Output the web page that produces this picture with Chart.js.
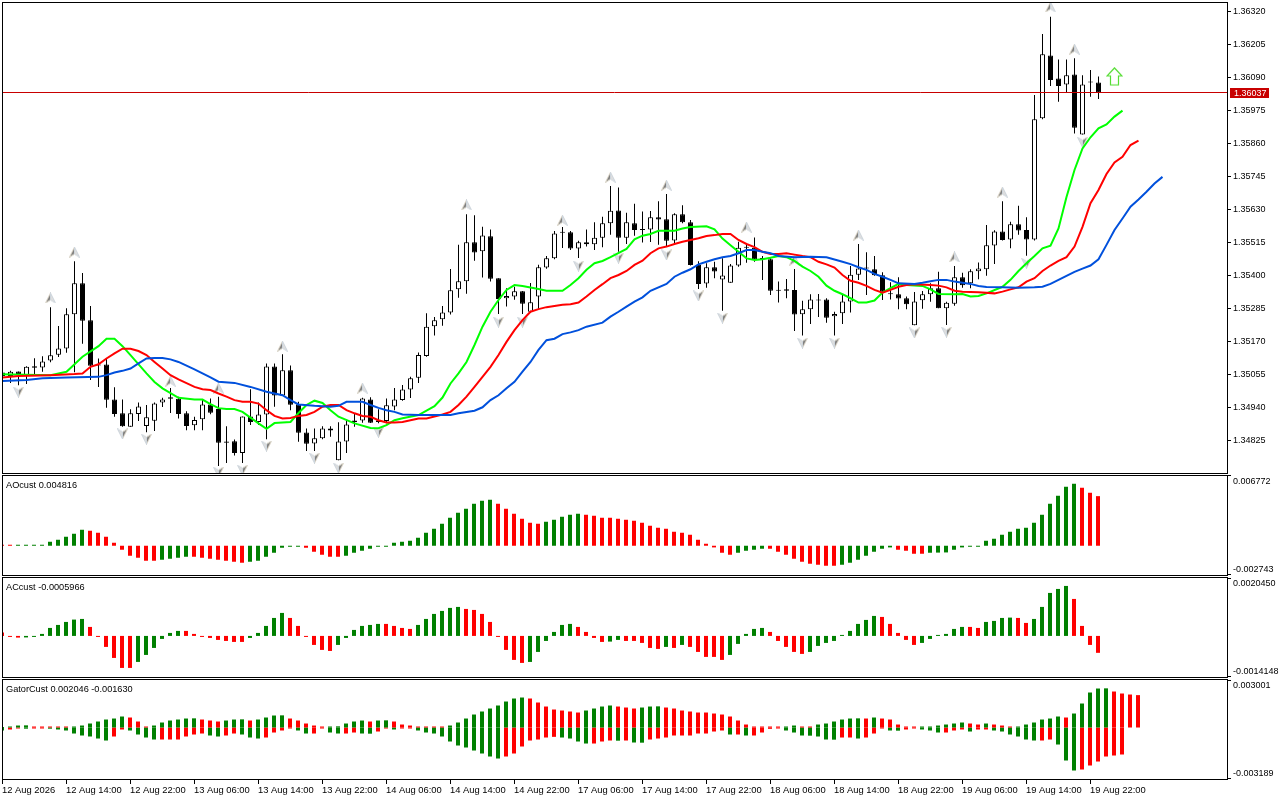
<!DOCTYPE html>
<html>
<head>
<meta charset="utf-8">
<title>GBPUSD H1</title>
<script src="https://cdn.jsdelivr.net/npm/chart.js@4"></script>
<style>
html, body { margin: 0; padding: 0; background: #fff; }
canvas { position: absolute; left: 0; display: block; }
</style>
</head>
<body>
<canvas id="main-chart" width="1280" height="474" style="top:0"></canvas>
<canvas id="ao-chart" width="1280" height="102" style="top:474px"></canvas>
<canvas id="ac-chart" width="1280" height="102" style="top:576px"></canvas>
<canvas id="gator-chart" width="1280" height="122" style="top:678px"></canvas>
<script>
// prices, one entry per hourly bar
const candleOpen = [
1.35060,1.35048,1.35064,1.35051,1.35082,1.35078,1.35102,1.35122,1.35144,1.35263,
1.35371,1.35242,1.35085,1.35088,1.34966,1.34918,1.34871,1.34916,1.34874,1.34892,
1.34956,1.34974,1.34969,1.34918,1.34876,1.34897,1.34949,1.34933,1.34820,1.34821,
1.34780,1.34907,1.34888,1.34914,1.35081,1.34980,1.35068,1.34950,1.34851,1.34813,
1.34831,1.34865,1.34754,1.34820,1.34893,1.34893,1.34966,1.34888,1.34891,1.34942,
1.34964,1.35001,1.35042,1.35118,1.35221,1.35246,1.35269,1.35350,1.35378,1.35514,
1.35483,1.35535,1.35389,1.35319,1.35325,1.35343,1.35272,1.35325,1.35426,1.35458,
1.35547,1.35549,1.35492,1.35514,1.35507,1.35530,1.35580,1.35625,1.35530,1.35580,
1.35557,1.35559,1.35601,1.35594,1.35520,1.35612,1.35584,1.35436,1.35370,1.35427,
1.35384,1.35373,1.35433,1.35495,1.35495,1.35455,1.35455,1.35345,1.35350,1.35348,
1.35263,1.35281,1.35315,1.35315,1.35256,1.35267,1.35308,1.35401,1.35423,1.35420,
1.35399,1.35336,1.35333,1.35319,1.35225,1.35312,1.35333,1.35354,1.35284,1.35300,
1.35392,1.35371,1.35413,1.35420,1.35503,1.35552,1.35524,1.35577,1.35557,1.35524,
1.35946,1.36165,1.36085,1.36064,1.36099,1.35890,1.36071,1.36071];
const candleHigh = [
1.35062,1.35066,1.35064,1.35082,1.35110,1.35117,1.35288,1.35222,1.35284,1.35448,
1.35407,1.35292,1.35109,1.35107,1.35009,1.34966,1.34932,1.34956,1.34947,1.34956,
1.34972,1.35006,1.34976,1.34925,1.34906,1.34964,1.34970,1.34976,1.34873,1.34827,
1.34907,1.35002,1.34956,1.35092,1.35092,1.35124,1.35085,1.34958,1.34865,1.34865,
1.34873,1.34873,1.34887,1.34891,1.34918,1.34972,1.34974,1.34932,1.34970,1.35006,
1.35017,1.35045,1.35130,1.35267,1.35254,1.35292,1.35421,1.35505,1.35612,1.35608,
1.35568,1.35559,1.35389,1.35354,1.35359,1.35344,1.35372,1.35436,1.35466,1.35553,
1.35567,1.35553,1.35519,1.35559,1.35584,1.35603,1.35710,1.35705,1.35617,1.35648,
1.35621,1.35623,1.35657,1.35682,1.35615,1.35643,1.35592,1.35448,1.35441,1.35446,
1.35458,1.35438,1.35516,1.35508,1.35531,1.35466,1.35458,1.35377,1.35386,1.35421,
1.35310,1.35333,1.35334,1.35319,1.35272,1.35330,1.35431,1.35508,1.35479,1.35466,
1.35410,1.35375,1.35392,1.35325,1.35341,1.35344,1.35371,1.35411,1.35307,1.35431,
1.35408,1.35420,1.35444,1.35574,1.35556,1.35657,1.35586,1.35641,1.35601,1.36027,
1.36240,1.36300,1.36151,1.36151,1.36155,1.36096,1.36114,1.36092];
const candleLow = [
1.35044,1.35024,1.35016,1.35020,1.35051,1.35063,1.35096,1.35114,1.35129,1.35061,
1.35160,1.35034,1.35010,1.34937,1.34906,1.34871,1.34871,1.34891,1.34852,1.34856,
1.34940,1.34919,1.34900,1.34859,1.34859,1.34859,1.34915,1.34734,1.34745,1.34771,
1.34745,1.34877,1.34877,1.34828,1.34941,1.34980,1.34929,1.34819,1.34787,1.34787,
1.34828,1.34836,1.34754,1.34780,1.34871,1.34885,1.34884,1.34883,1.34883,1.34929,
1.34962,1.34971,1.35024,1.35115,1.35189,1.35223,1.35262,1.35321,1.35335,1.35450,
1.35391,1.35377,1.35264,1.35290,1.35314,1.35264,1.35268,1.35278,1.35422,1.35455,
1.35494,1.35487,1.35459,1.35499,1.35487,1.35497,1.35540,1.35481,1.35508,1.35537,
1.35513,1.35515,1.35505,1.35499,1.35508,1.35580,1.35433,1.35351,1.35356,1.35389,
1.35275,1.35373,1.35429,1.35443,1.35446,1.35383,1.35330,1.35304,1.35319,1.35205,
1.35189,1.35229,1.35254,1.35234,1.35189,1.35229,1.35269,1.35383,1.35330,1.35397,
1.35313,1.35315,1.35281,1.35281,1.35225,1.35282,1.35307,1.35284,1.35226,1.35293,
1.35356,1.35354,1.35385,1.35397,1.35438,1.35520,1.35493,1.35540,1.35467,1.35520,
1.35943,1.36059,1.36004,1.36035,1.35893,1.35890,1.36021,1.36013];
const candleClose = [
1.35048,1.35063,1.35051,1.35080,1.35077,1.35099,1.35120,1.35144,1.35263,1.35371,
1.35241,1.35084,1.35088,1.34965,1.34916,1.34873,1.34918,1.34942,1.34904,1.34952,
1.34966,1.34969,1.34916,1.34874,1.34895,1.34949,1.34920,1.34815,1.34815,1.34780,
1.34907,1.34888,1.34914,1.35081,1.34980,1.35068,1.34948,1.34850,1.34812,1.34831,
1.34865,1.34858,1.34820,1.34879,1.34887,1.34970,1.34885,1.34894,1.34946,1.34966,
1.35001,1.35040,1.35121,1.35220,1.35242,1.35269,1.35347,1.35378,1.35514,1.35478,
1.35538,1.35387,1.35316,1.35327,1.35343,1.35300,1.35305,1.35427,1.35458,1.35545,
1.35550,1.35492,1.35514,1.35507,1.35530,1.35580,1.35624,1.35530,1.35584,1.35557,
1.35559,1.35601,1.35593,1.35519,1.35612,1.35584,1.35435,1.35369,1.35427,1.35412,
1.35398,1.35433,1.35495,1.35497,1.35455,1.35459,1.35345,1.35346,1.35345,1.35262,
1.35281,1.35315,1.35311,1.35251,1.35264,1.35308,1.35401,1.35423,1.35425,1.35399,
1.35342,1.35333,1.35318,1.35298,1.35308,1.35333,1.35354,1.35284,1.35303,1.35392,
1.35364,1.35413,1.35423,1.35504,1.35552,1.35522,1.35577,1.35555,1.35524,1.35943,
1.36169,1.36080,1.36059,1.36096,1.35913,1.36064,1.36073,1.36037];

// alligator lines, read at the bars where they bend
const lipsBars = [0,6,8,10,12,13,14,15,16,18,19,20,22,24,25,26,27,28,29,30,32,33,34,35,36,37,38,39,40,41,42,44,46,47,48,49,50,52,54,55,56,57,58,59,60,61,62,63,64,65,67,68,70,71,72,73,74,75,76,78,79,80,81,82,84,85,86,88,89,90,91,92,93,94,95,96,97,98,99,100,101,102,103,104,105,106,107,108,109,110,111,112,113,115,116,117,119,120,121,122,123,125,126,127,128,129,130,131,132,133,134,135,136,137,138,139,140];
const lipsValues = [1.35054,1.35051,1.35063,1.35115,1.35152,1.35178,1.35178,1.35152,1.35121,1.35057,1.35027,1.35005,1.34972,1.34966,1.34966,1.34950,1.34936,1.34933,1.34933,1.34923,1.34883,1.34864,1.34884,1.34886,1.34888,1.34919,1.34947,1.34962,1.34954,1.34929,1.34906,1.34883,1.34867,1.34866,1.34877,1.34894,1.34901,1.34912,1.34943,1.34973,1.35022,1.35057,1.35097,1.35156,1.35220,1.35272,1.35313,1.35348,1.35365,1.35362,1.35351,1.35345,1.35345,1.35365,1.35389,1.35418,1.35441,1.35449,1.35462,1.35491,1.35524,1.35537,1.35543,1.35554,1.35554,1.35562,1.35567,1.35570,1.35559,1.35527,1.35504,1.35481,1.35458,1.35452,1.35455,1.35460,1.35466,1.35462,1.35449,1.35429,1.35414,1.35394,1.35363,1.35345,1.35333,1.35319,1.35304,1.35304,1.35311,1.35339,1.35354,1.35369,1.35365,1.35362,1.35350,1.35334,1.35333,1.35334,1.35325,1.35327,1.35336,1.35359,1.35383,1.35414,1.35441,1.35466,1.35493,1.35502,1.35562,1.35672,1.35766,1.35841,1.35880,1.35911,1.35925,1.35952,1.35973];
const teethBars = [0,2,6,9,10,11,12,13,14,15,16,17,18,19,20,21,22,24,25,26,27,28,29,30,31,32,33,34,35,36,37,38,39,40,41,42,43,44,45,46,47,48,49,50,52,53,55,56,57,58,59,60,61,62,63,64,65,66,67,68,69,70,71,72,73,74,75,76,77,78,79,80,81,82,83,84,85,86,87,88,89,90,91,92,93,94,95,96,97,98,99,100,101,102,103,104,105,106,107,108,109,110,111,112,113,114,116,117,118,119,120,122,124,125,126,127,128,129,130,131,132,133,134,135,136,137,138,139,140,141,142];
const teethValues = [1.35043,1.35048,1.35051,1.35055,1.35057,1.35080,1.35089,1.35109,1.35127,1.35143,1.35143,1.35135,1.35121,1.35097,1.35074,1.35051,1.35036,1.35010,1.35002,1.34999,1.34987,1.34976,1.34964,1.34958,1.34958,1.34952,1.34929,1.34909,1.34900,1.34902,1.34909,1.34912,1.34923,1.34941,1.34947,1.34947,1.34929,1.34918,1.34909,1.34906,1.34894,1.34886,1.34886,1.34888,1.34900,1.34900,1.34914,1.34923,1.34947,1.34976,1.35010,1.35045,1.35080,1.35121,1.35167,1.35208,1.35243,1.35272,1.35281,1.35288,1.35292,1.35296,1.35298,1.35304,1.35325,1.35348,1.35368,1.35389,1.35400,1.35414,1.35435,1.35450,1.35476,1.35493,1.35499,1.35508,1.35516,1.35522,1.35528,1.35536,1.35539,1.35543,1.35543,1.35522,1.35508,1.35497,1.35481,1.35473,1.35473,1.35476,1.35471,1.35466,1.35462,1.35446,1.35437,1.35426,1.35400,1.35380,1.35373,1.35362,1.35348,1.35338,1.35348,1.35359,1.35365,1.35368,1.35365,1.35363,1.35357,1.35345,1.35342,1.35340,1.35336,1.35342,1.35350,1.35357,1.35377,1.35389,1.35414,1.35433,1.35449,1.35462,1.35499,1.35568,1.35650,1.35696,1.35752,1.35792,1.35812,1.35853,1.35868];
const jawBars = [0,3,5,8,12,13,14,15,16,17,18,19,20,21,22,24,26,27,29,31,33,35,36,37,39,41,42,43,45,46,47,48,49,50,52,56,57,59,60,61,62,63,64,65,66,67,68,69,70,71,72,73,75,76,77,78,79,80,81,83,84,85,86,87,88,89,90,91,92,93,94,95,96,97,99,101,103,105,106,107,108,109,110,111,112,114,115,116,117,118,119,120,121,122,123,125,127,129,130,131,132,133,134,135,136,137,138,139,140,141,142,143,144,145];
const jawValues = [1.35031,1.35034,1.35040,1.35043,1.35045,1.35051,1.35060,1.35066,1.35074,1.35092,1.35109,1.35111,1.35111,1.35106,1.35097,1.35071,1.35043,1.35028,1.35024,1.35010,1.34993,1.34981,1.34964,1.34949,1.34944,1.34941,1.34944,1.34958,1.34958,1.34947,1.34937,1.34929,1.34923,1.34914,1.34912,1.34912,1.34918,1.34927,1.34939,1.34964,1.34981,1.35005,1.35028,1.35063,1.35097,1.35139,1.35173,1.35178,1.35194,1.35200,1.35208,1.35220,1.35234,1.35255,1.35272,1.35290,1.35307,1.35322,1.35345,1.35369,1.35394,1.35408,1.35420,1.35437,1.35446,1.35455,1.35462,1.35466,1.35476,1.35487,1.35487,1.35481,1.35476,1.35466,1.35462,1.35464,1.35462,1.35446,1.35438,1.35427,1.35418,1.35404,1.35394,1.35383,1.35371,1.35369,1.35373,1.35378,1.35383,1.35383,1.35377,1.35373,1.35369,1.35362,1.35358,1.35357,1.35356,1.35357,1.35359,1.35369,1.35383,1.35397,1.35411,1.35422,1.35433,1.35455,1.35505,1.35557,1.35597,1.35638,1.35663,1.35690,1.35719,1.35742];

// fractal arrows and the signal arrow
const fractalUpBars = [6,9,21,27,35,45,58,70,76,83,93,99,107,119,125,131,134];
const fractalUpValues = [1.35320,1.35480,1.35030,1.35006,1.35152,1.35006,1.35644,1.35591,1.35741,1.35713,1.35567,1.35452,1.35539,1.35463,1.35689,1.36334,1.36187];
const fractalDownBars = [2,15,18,27,30,33,39,42,47,62,65,72,77,83,87,90,100,104,114,118,128,135];
const fractalDownValues = [1.34992,1.34846,1.34828,1.34713,1.34720,1.34804,1.34762,1.34727,1.34852,1.35236,1.35236,1.35431,1.35459,1.35470,1.35327,1.35250,1.35163,1.35163,1.35198,1.35201,1.35441,1.35863];
const signalBars = [139];
const signalValues = [1.36092];

const currentPrice = 1.36037;
const priceTicks = [1.36320,1.36205,1.36090,1.35975,1.35860,1.35745,1.35630,1.35515,1.35400,1.35285,1.35170,1.35055,1.34940,1.34825];

const aoValues = [
0.000060,0.000050,0.000055,0.000060,0.000065,0.000080,0.000388,0.000582,0.000874,0.001165,
0.001553,0.001456,0.001262,0.000874,0.000291,-0.000388,-0.000971,-0.001165,-0.001456,-0.001456,
-0.001359,-0.001262,-0.001165,-0.001068,-0.001068,-0.001165,-0.001262,-0.001359,-0.001456,-0.001553,
-0.001650,-0.001553,-0.001456,-0.001068,-0.000680,-0.000194,-0.000065,-0.000040,-0.000194,-0.000582,
-0.000874,-0.001068,-0.001068,-0.000971,-0.000680,-0.000485,-0.000291,-0.000065,-0.000030,0.000291,
0.000388,0.000485,0.000777,0.001262,0.001650,0.002136,0.002718,0.003204,0.003592,0.004077,
0.004369,0.004466,0.004077,0.003592,0.003107,0.002621,0.002233,0.002136,0.002330,0.002524,
0.002815,0.003009,0.003107,0.003009,0.002912,0.002718,0.002718,0.002621,0.002524,0.002427,
0.002233,0.001942,0.001747,0.001650,0.001359,0.001262,0.001068,0.000582,0.000194,-0.000162,
-0.000680,-0.000874,-0.000680,-0.000485,-0.000388,-0.000291,-0.000291,-0.000582,-0.000874,-0.001262,
-0.001553,-0.001747,-0.001845,-0.001942,-0.001942,-0.001845,-0.001650,-0.001359,-0.000971,-0.000582,
-0.000291,-0.000162,-0.000388,-0.000485,-0.000777,-0.000777,-0.000680,-0.000665,-0.000650,-0.000388,
-0.000162,-0.000097,-0.000065,0.000485,0.000680,0.001068,0.001359,0.001650,0.001747,0.002233,
0.003009,0.004077,0.004854,0.005728,0.006019,0.005631,0.005145,0.004816];
const aoTop = 0.006772;
const aoBottom = -0.002743;

const acValues = [
0.000118,-0.000035,-0.000059,-0.000053,-0.000035,0.000071,0.000282,0.000388,0.000494,0.000577,
0.000600,0.000318,-0.000035,-0.000388,-0.000777,-0.001130,-0.001130,-0.000918,-0.000671,-0.000424,
-0.000106,0.000106,0.000177,0.000177,0.000071,-0.000024,-0.000071,-0.000141,-0.000177,-0.000212,
-0.000212,-0.000071,0.000106,0.000353,0.000635,0.000812,0.000635,0.000353,-0.000024,-0.000318,
-0.000494,-0.000530,-0.000318,-0.000071,0.000212,0.000353,0.000388,0.000424,0.000424,0.000353,
0.000282,0.000247,0.000388,0.000600,0.000777,0.000883,0.000989,0.001024,0.000953,0.000918,
0.000777,0.000494,-0.000024,-0.000494,-0.000847,-0.000953,-0.000918,-0.000565,-0.000177,0.000141,
0.000388,0.000424,0.000318,0.000141,-0.000071,-0.000212,-0.000200,-0.000141,-0.000177,-0.000177,
-0.000247,-0.000424,-0.000459,-0.000388,-0.000424,-0.000318,-0.000388,-0.000565,-0.000741,-0.000741,
-0.000847,-0.000671,-0.000282,0.000071,0.000247,0.000282,0.000141,-0.000177,-0.000388,-0.000565,
-0.000635,-0.000565,-0.000353,-0.000247,-0.000177,0.000024,0.000177,0.000424,0.000565,0.000706,
0.000671,0.000424,0.000106,-0.000141,-0.000318,-0.000247,-0.000106,0.000035,0.000071,0.000247,
0.000318,0.000318,0.000282,0.000494,0.000530,0.000635,0.000647,0.000635,0.000459,0.000600,
0.001024,0.001518,0.001659,0.001765,0.001306,0.000353,-0.000318,-0.000597];
const acTop = 0.002045;
const acBottom = -0.0014148;

const gatorUp = [
0,0.000063,0.000126,0.000137,0.000063,0.000063,0.000063,0.000063,0.000021,0.000063,
0.000126,0.000253,0.000379,0.000505,0.000568,0.000695,0.000632,0.000379,0.000063,0.000126,
0.000316,0.000442,0.000505,0.000568,0.000579,0.000505,0.000442,0.000379,0.000442,0.000505,
0.000516,0.000442,0.000505,0.000632,0.000758,0.000768,0.000568,0.000442,0.000253,0.000126,
0.000021,0.000063,0.000074,0.000253,0.000379,0.000442,0.000379,0.000442,0.000453,0.000379,
0.000189,0.000126,0.000063,0.000063,0.000021,0.000011,0.000126,0.000316,0.000568,0.000821,
0.001011,0.001200,0.001390,0.001642,0.001832,0.001895,0.001832,0.001579,0.001326,0.001137,
0.001074,0.001011,0.000947,0.001074,0.001200,0.001326,0.001390,0.001326,0.001263,0.001200,
0.001263,0.001326,0.001337,0.001263,0.001200,0.001074,0.001011,0.000947,0.000947,0.000884,
0.000821,0.000695,0.000442,0.000189,0.000063,0.000021,0.000021,0.000021,0.000063,0.000126,
0.000063,0.000021,0.000189,0.000253,0.000379,0.000505,0.000568,0.000579,0.000568,0.000632,
0.000568,0.000505,0.000189,0.000063,0.000021,0.000032,0.000063,0.000126,0.000189,0.000253,
0.000316,0.000253,0.000189,0.000253,0.000189,0.000126,0.000021,0.000063,0.000189,0.000316,
0.000505,0.000568,0.000695,0.000632,0.000884,0.001516,0.002211,0.002463,0.002474,0.002274,
0.002148,0.002084,0.002046];
const gatorDown = [
-0.000189,-0.000126,-0.000063,-0.000074,-0.000063,-0.000063,-0.000074,-0.000126,-0.000189,-0.000379,
-0.000505,-0.000568,-0.000695,-0.000821,-0.000568,-0.000126,-0.000189,-0.000442,-0.000632,-0.000758,
-0.000758,-0.000758,-0.000758,-0.000568,-0.000442,-0.000379,-0.000505,-0.000568,-0.000505,-0.000379,
-0.000442,-0.000632,-0.000695,-0.000632,-0.000316,-0.000189,-0.000063,-0.000189,-0.000379,-0.000379,
-0.000042,-0.000316,-0.000379,-0.000379,-0.000316,-0.000379,-0.000390,-0.000253,-0.000063,-0.000126,
-0.000063,-0.000063,-0.000189,-0.000316,-0.000379,-0.000568,-0.000884,-0.001137,-0.001263,-0.001453,
-0.001642,-0.001832,-0.001958,-0.001832,-0.001642,-0.001200,-0.000821,-0.000758,-0.000632,-0.000590,
-0.000632,-0.000695,-0.000884,-0.001011,-0.001011,-0.000884,-0.000821,-0.000832,-0.000821,-0.000947,
-0.000958,-0.000758,-0.000695,-0.000632,-0.000505,-0.000505,-0.000505,-0.000379,-0.000379,-0.000253,
-0.000189,-0.000442,-0.000442,-0.000505,-0.000505,-0.000316,-0.000084,-0.000042,-0.000189,-0.000316,
-0.000505,-0.000516,-0.000568,-0.000758,-0.000768,-0.000632,-0.000632,-0.000695,-0.000632,-0.000379,
-0.000063,-0.000189,-0.000200,-0.000126,-0.000042,-0.000126,-0.000189,-0.000316,-0.000316,-0.000189,
-0.000126,-0.000253,-0.000126,-0.000126,-0.000189,-0.000253,-0.000442,-0.000568,-0.000758,-0.000821,
-0.000821,-0.000758,-0.001074,-0.002084,-0.002716,-0.002653,-0.002400,-0.002148,-0.001832,-0.001769,
-0.001705,null,null];
const gatorTop = 0.003001;
const gatorBottom = -0.003189;

const timeLabels = ['12 Aug 2026','12 Aug 14:00','12 Aug 22:00','13 Aug 06:00','13 Aug 14:00','13 Aug 22:00','14 Aug 06:00','14 Aug 14:00','14 Aug 22:00','17 Aug 06:00','17 Aug 14:00','17 Aug 22:00','18 Aug 06:00','18 Aug 14:00','18 Aug 22:00','19 Aug 06:00','19 Aug 14:00','19 Aug 22:00'];

const GREEN = '#008000';
const RED = '#ff0000';
const BAR_PX = 8;   // pixels per hourly bar
const AREA_W = 1225;
const FONT_FAMILY = "'Liberation Sans', Arial, sans-serif";

Chart.defaults.font.family = FONT_FAMILY;
Chart.defaults.font.size = 9;
Chart.defaults.color = '#000';

function toPoints(bars, values) {
    return bars.map((b, i) => ({ x: b, y: values[i] }));
}

function frameLabelPlugin(text) {
    return {
        id: 'frameLabel',
        afterDraw(chart) {
            const { ctx, chartArea: a } = chart;
            ctx.save();
            ctx.strokeStyle = '#000';
            ctx.lineWidth = 1;
            ctx.strokeRect(a.left + 0.5, a.top + 0.5, a.right - a.left, a.bottom - a.top);
            if (text) {
                ctx.fillStyle = '#000';
                ctx.font = '9.2px ' + FONT_FAMILY;
                ctx.textBaseline = 'middle';
                ctx.fillText(text, 6, a.top + 10);
            }
            ctx.restore();
        }
    };
}

const priceTagPlugin = {
    id: 'priceTag',
    afterDatasetsDraw(chart) {
        const { ctx, chartArea: a, scales } = chart;
        const y = Math.floor(scales.y.getPixelForValue(currentPrice)) + 0.5;
        ctx.save();
        ctx.strokeStyle = '#c80000';
        ctx.lineWidth = 1;
        ctx.beginPath();
        ctx.moveTo(a.left, y);
        ctx.lineTo(a.right, y);
        ctx.stroke();
        ctx.fillStyle = '#c80000';
        ctx.fillRect(a.right + 3, y - 4.5, 39, 10);
        ctx.fillStyle = '#fff';
        ctx.font = '9px ' + FONT_FAMILY;
        ctx.textBaseline = 'middle';
        ctx.fillText(currentPrice.toFixed(5), a.right + 7, y + 1);
        ctx.restore();
    }
};

// the grey navigation-arrow glyph used for the fractals
function fractalGlyph(pointsUp) {
    const c = document.createElement('canvas');
    c.width = 11;
    c.height = 11;
    const g = c.getContext('2d');
    if (!pointsUp) {
        g.translate(11, 11);
        g.rotate(Math.PI);
    }
    g.beginPath();
    g.moveTo(5.5, 0.5); g.lineTo(0.5, 10.5); g.lineTo(5.5, 7.5); g.closePath();
    g.fillStyle = '#808080';
    g.fill();
    g.strokeStyle = '#d8d2c4';
    g.stroke();
    g.beginPath();
    g.moveTo(5.5, 0.5); g.lineTo(10.5, 10.5); g.lineTo(5.5, 7.5); g.closePath();
    g.fillStyle = '#dedede';
    g.fill();
    g.strokeStyle = '#cdd5dc';
    g.stroke();
    return c;
}

function signalGlyph() {
    const c = document.createElement('canvas');
    c.width = 17;
    c.height = 19;
    const g = c.getContext('2d');
    g.beginPath();
    g.moveTo(8.5, 1); g.lineTo(16, 9); g.lineTo(12.5, 9); g.lineTo(12.5, 18);
    g.lineTo(4.5, 18); g.lineTo(4.5, 9); g.lineTo(1, 9); g.closePath();
    g.fillStyle = '#fff';
    g.fill();
    g.lineWidth = 1.2;
    g.strokeStyle = '#55dd33';
    g.stroke();
    return c;
}

function lineSet(bars, values, color) {
    return {
        type: 'line',
        data: toPoints(bars, values),
        borderColor: color,
        borderWidth: 2,
        pointRadius: 0,
        fill: false,
        tension: 0,
        order: 1
    };
}

function glyphSet(bars, values, glyph, order) {
    return {
        type: 'line',
        data: toPoints(bars, values),
        showLine: false,
        pointStyle: glyph,
        pointRadius: 6,
        order: order
    };
}

function noScalePadding(s) {
    s.paddingTop = 0;
    s.paddingBottom = 0;
    s.paddingLeft = 0;
    s.paddingRight = 0;
}

const candleBars = candleOpen.map((_, i) => i);
const candleColor = (ctx) => candleClose[ctx.dataIndex] >= candleOpen[ctx.dataIndex] ? '#fff' : '#000';

new Chart(document.getElementById('main-chart'), {
    data: {
        datasets: [
            {
                type: 'bar',
                data: candleBars.map(i => ({ x: i, y: [candleLow[i], candleHigh[i]] })),
                backgroundColor: '#000',
                barThickness: 1,
                grouped: false,
                inflateAmount: 0,
                order: 6
            },
            {
                type: 'bar',
                data: candleBars.map(i => ({ x: i, y: [candleOpen[i], candleClose[i]] })),
                backgroundColor: candleColor,
                borderColor: '#000',
                borderWidth: 1,
                borderSkipped: false,
                barThickness: 5,
                minBarLength: 1,
                grouped: false,
                inflateAmount: 0,
                order: 5
            },
            glyphSet(fractalUpBars, fractalUpValues, fractalGlyph(true), 4),
            glyphSet(fractalDownBars, fractalDownValues, fractalGlyph(false), 4),
            glyphSet(signalBars, signalValues, signalGlyph(), 3),
            lineSet(jawBars, jawValues, '#0050dc'),
            lineSet(teethBars, teethValues, '#ff0000'),
            lineSet(lipsBars, lipsValues, '#00ff00')
        ]
    },
    options: {
        responsive: false,
        devicePixelRatio: 1,
        animation: false,
        events: [],
        layout: { autoPadding: false, padding: { left: 2, top: 2, bottom: 1, right: 0 } },
        plugins: { legend: { display: false }, tooltip: { enabled: false } },
        scales: {
            x: { type: 'linear', display: false, offset: false, min: -0.0625, max: AREA_W / BAR_PX - 0.0625, grid: { offset: false } },
            y: {
                position: 'right',
                min: 1.3471,
                max: 1.363514,
                afterFit: (s) => { s.width = 53; noScalePadding(s); },
                afterBuildTicks: (s) => { s.ticks = priceTicks.map(v => ({ value: v })); },
                grid: { drawOnChartArea: false, tickLength: 4, tickColor: '#000' },
                border: { display: false },
                ticks: { autoSkip: false, padding: 2, labelOffset: 1, color: '#000', callback: (v) => v.toFixed(5) }
            }
        }
    },
    plugins: [frameLabelPlugin(''), priceTagPlugin]
});

// one histogram panel below the price chart
function histogramPanel(id, datasets, top, bottom, topText, bottomText, caption, showTime) {
    const pxValue = (top - bottom) / 98;
    new Chart(document.getElementById(id), {
        data: { datasets: datasets },
        options: {
            responsive: false,
            devicePixelRatio: 1,
            animation: false,
            events: [],
            layout: { autoPadding: false, padding: { left: 2, top: 1, bottom: showTime ? 0 : 1, right: 0 } },
            plugins: { legend: { display: false }, tooltip: { enabled: false } },
            scales: {
                x: {
                    type: 'linear',
                    display: !!showTime,
                    offset: false,
                    min: 0,
                    max: AREA_W / BAR_PX,
                    afterFit: (s) => {
                        noScalePadding(s);
                        if (showTime) s.height = 21;
                    },
                    afterBuildTicks: (s) => { s.ticks = timeLabels.map((_, i) => ({ value: i * 8 })); },
                    grid: { drawOnChartArea: false, offset: false, tickLength: 5, tickColor: '#000' },
                    border: { display: false },
                    ticks: {
                        autoSkip: false,
                        maxRotation: 0,
                        align: 'start',
                        padding: 1,
                        color: '#000',
                        font: { size: 9.4 },
                        callback: (v, i) => timeLabels[i]
                    }
                },
                y: {
                    position: 'right',
                    min: bottom - pxValue,
                    max: top + pxValue,
                    afterFit: (s) => { s.width = 53; noScalePadding(s); },
                    // marks sit on the edges, the two labels just inside them
                    afterBuildTicks: (s) => {
                        s.ticks = [top, bottom, top - 5 * pxValue, bottom + 5 * pxValue].map(v => ({ value: v }));
                    },
                    grid: {
                        drawOnChartArea: false,
                        tickLength: 4,
                        tickColor: (ctx) => ctx.index < 2 ? '#000' : 'rgba(0,0,0,0)'
                    },
                    border: { display: false },
                    ticks: {
                        autoSkip: false,
                        padding: 2,
                        labelOffset: 1,
                        color: '#000',
                        callback: (v, i) => i === 2 ? topText : i === 3 ? bottomText : ''
                    }
                }
            }
        },
        plugins: [frameLabelPlugin(caption)]
    });
}

function risingSet(values, rising, firstGreen) {
    return {
        type: 'bar',
        data: values.map((v, i) => ({ x: i, y: v })),
        backgroundColor: (ctx) => {
            const i = ctx.dataIndex;
            if (i === 0) return firstGreen ? GREEN : RED;
            return rising(values[i], values[i - 1]) ? GREEN : RED;
        },
        barThickness: 4,
        minBarLength: 1,
        grouped: false,
        inflateAmount: 0
    };
}

const higher = (a, b) => a > b;
const wider = (a, b) => Math.abs(a) > Math.abs(b);

histogramPanel('ao-chart', [risingSet(aoValues, higher, false)], aoTop, aoBottom,
    '0.006772', '-0.002743', 'AOcust 0.004816', false);
histogramPanel('ac-chart', [risingSet(acValues, higher, false)], acTop, acBottom,
    '0.0020450', '-0.0014148', 'ACcust -0.0005966', false);
histogramPanel('gator-chart', [risingSet(gatorUp, wider, true), risingSet(gatorDown, wider, true)], gatorTop, gatorBottom,
    '0.003001', '-0.003189', 'GatorCust 0.002046 -0.001630', true);
</script>
</body>
</html>
